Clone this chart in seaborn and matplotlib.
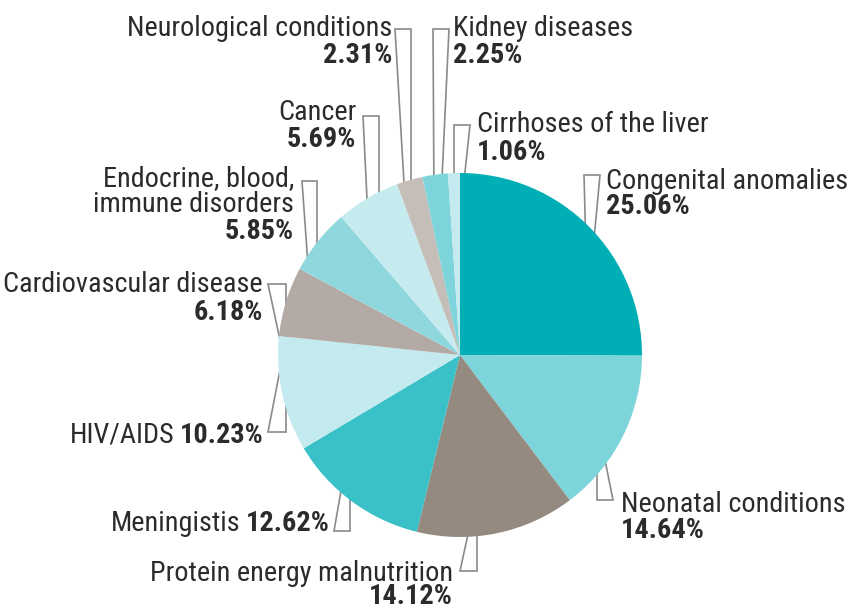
import matplotlib
matplotlib.use("Agg")
import matplotlib.pyplot as plt
import seaborn as sns
from matplotlib import font_manager as fm
from matplotlib.patches import Polygon

# ---------------- data ----------------
categories = ["Congenital anomalies", "Neonatal conditions", "Protein energy malnutrition",
              "Meningistis", "HIV/AIDS", "Cardiovascular disease",
              "Endocrine, blood,\nimmune disorders", "Cancer", "Neurological conditions",
              "Kidney diseases", "Cirrhoses of the liver"]
values = [25.06, 14.64, 14.12, 12.62, 10.23, 6.18, 5.85, 5.69, 2.31, 2.25, 1.06]
pct_labels = ["25.06%", "14.64%", "14.12%", "12.62%", "10.23%", "6.18%",
              "5.85%", "5.69%", "2.31%", "2.25%", "1.06%"]
colors = ["#00aeb5", "#7dd4da", "#958a7f", "#3ac0c7", "#c3eaee", "#b3aaa6",
          "#8ed8dd", "#c6ebef", "#c5bdb8", "#7ed4db", "#c3eaee"]

sns.set_theme(style="white")
names = {f.name for f in fm.fontManager.ttflist}
font = None
for cand in ["Liberation Sans Narrow", "Roboto Condensed", "Liberation Sans"]:
    if cand in names:
        font = cand
        break
if font is None:
    font = "DejaVu Sans"
plt.rcParams["font.family"] = [font, "DejaVu Sans"]
fs = 20.3 if font != "Liberation Sans" else 18
TXT = "#2b2b2b"
LINE = "#8a8a8a"

W, H = 848, 608
fig = plt.figure(figsize=(W / 100, H / 100), dpi=100)
ax = fig.add_axes([0, 0, 1, 1])

def P(x, y):
    return (x, H - y)

# leader shapes (pixel coords), drawn below the pie
leaders = [
    [(584, 175), (600, 175), (593, 250), (586, 250)],
    [(597, 500), (613, 500), (604, 455), (597, 455)],
    [(460, 571), (477, 571), (477, 525), (470, 525)],
    [(334, 531), (350, 531), (350, 485), (342, 485)],
    [(268, 432), (286, 432), (286, 370), (280, 370)],
    [(268, 284), (286, 284), (286, 340), (280, 340)],
    [(302, 181), (317, 181), (317, 265), (308, 265)],
    [(363, 116), (379, 116), (379, 220), (368, 220)],
    [(395, 29), (411, 29), (411, 200), (405, 200)],
    [(433, 29), (449, 29), (441, 200), (434, 200)],
    [(454, 125), (470, 125), (462, 200), (454, 200)],
]
for pts in leaders:
    ax.add_patch(Polygon([P(*p) for p in pts], closed=True, facecolor="white",
                         edgecolor=LINE, linewidth=1.2, zorder=1))

wedges, _ = ax.pie(values, colors=colors, startangle=90, counterclock=False,
                   center=P(460, 355), radius=182,
                   wedgeprops=dict(linewidth=0, zorder=2))
for w in wedges:
    w.set_zorder(2)

ax.set_xlim(0, W)
ax.set_ylim(0, H)
ax.set_aspect("equal")
ax.axis("off")

renderer = fig.canvas.get_renderer()

def two_line(i, x, y1, y2, ha):
    lines = categories[i].split("\n")
    yy = y1
    for ln in lines:
        ax.text(*P(x, yy), ln, ha=ha, va="baseline", fontsize=fs, color=TXT, zorder=5)
        yy += 26
    ax.text(*P(x, y2), pct_labels[i], ha=ha, va="baseline", fontsize=fs,
            fontweight="bold", color=TXT, zorder=5)

def one_line_right(i, x, y):
    t = ax.text(*P(x, y), pct_labels[i], ha="right", va="baseline", fontsize=fs,
                fontweight="bold", color=TXT, zorder=5)
    wpx = t.get_window_extent(renderer).width
    ax.text(*P(x - wpx - 6, y), categories[i], ha="right", va="baseline",
            fontsize=fs, color=TXT, zorder=5)

two_line(0, 606, 189, 214, "left")
two_line(1, 621, 512, 538, "left")
two_line(2, 453, 581, 604, "right")
one_line_right(3, 330, 531)
one_line_right(4, 264, 443)
two_line(5, 263, 292, 320, "right")
two_line(6, 294, 186, 239, "right")
two_line(7, 356, 120, 147, "right")
two_line(8, 392, 36, 63, "right")
two_line(9, 453, 36, 63, "left")
two_line(10, 477, 132, 160, "left")

fig.savefig("out.png", dpi=100, facecolor="white")
